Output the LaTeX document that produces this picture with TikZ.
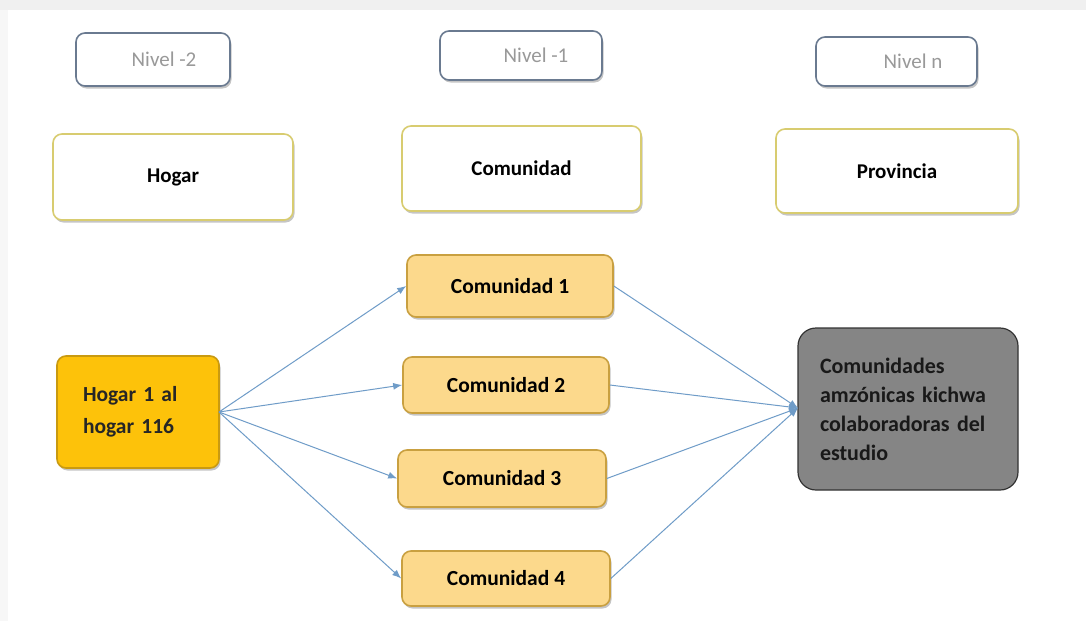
\documentclass[tikz,border=0pt]{standalone}
\usepackage{fontspec}
\setmainfont{Carlito}
\usetikzlibrary{shadows,arrows.meta}
\definecolor{nivbd}{HTML}{6A7A90}
\definecolor{topbd}{HTML}{D8CC70}
\definecolor{combd}{HTML}{C9A040}
\definecolor{comfill}{HTML}{FCD98C}
\definecolor{hogfill}{HTML}{FDC20A}
\definecolor{hogbd}{HTML}{C99A10}
\definecolor{grayfill}{HTML}{858585}
\definecolor{arrowc}{HTML}{6F9CC8}
\tikzset{
  base/.style={rounded corners=9pt, line width=1.6pt, drop shadow={shadow xshift=1.5pt, shadow yshift=-2.5pt, opacity=0.45}},
  nivbox/.style={base, draw=nivbd, fill=white, text=gray!80, font=\fontsize{21}{24}\selectfont},
  topbox/.style={base, draw=topbd, fill=white, font=\bfseries\fontsize{21}{24}\selectfont},
  combox/.style={base, draw=combd, fill=comfill, font=\bfseries\fontsize{21.5}{24}\selectfont},
  hogbox/.style={base, draw=hogbd, fill=hogfill, text=black!85, font=\bfseries\fontsize{21.5}{32}\selectfont},
  graybox/.style={rounded corners=18pt, line width=1.2pt, draw=black!80, fill=grayfill, text=black!90, font=\bfseries\fontsize{22}{29}\selectfont},
  conn/.style={draw=arrowc, line width=1pt, -{Latex[length=9pt,width=7pt]}}
}
\begin{document}
\begin{tikzpicture}[x=1pt,y=-1pt]
\useasboundingbox (0,0) rectangle (1086,621);
\fill[white] (0,0) rectangle (1086,621);
\fill[gray!12] (0,0) rectangle (1086,10);
\fill[gray!6] (0,10) rectangle (8,621);
% level labels
\node[nivbox, minimum width=154pt, minimum height=53pt] (n2) at (153,59.5) {\hspace*{22pt}Nivel -2};
\node[nivbox, minimum width=162pt, minimum height=49pt] (n1) at (521,55.5) {\hspace*{30pt}Nivel -1};
\node[nivbox, minimum width=161pt, minimum height=49pt] (nn) at (896.5,61.5) {\hspace*{33pt}Nivel n};
% top boxes
\node[topbox, minimum width=240pt, minimum height=86pt] (hogar) at (173,177) {Hogar};
\node[topbox, minimum width=239pt, minimum height=85pt] (comu) at (521.5,168.5) {Comunidad};
\node[topbox, minimum width=242pt, minimum height=84pt] (prov) at (897,171) {Provincia};
% communities
\node[combox, minimum width=206pt, minimum height=62pt] (c1) at (510,286) {Comunidad 1};
\node[combox, minimum width=206pt, minimum height=56pt] (c2) at (506,385) {Comunidad 2};
\node[combox, minimum width=208pt, minimum height=57pt] (c3) at (502,478.5) {Comunidad 3};
\node[combox, minimum width=208pt, minimum height=55pt] (c4) at (506,578.5) {Comunidad 4};
% source
\node[hogbox, minimum width=162pt, minimum height=112pt, align=left, text width=110pt] (h) at (138,412) {Hogar 1 al\\hogar 116};
% target
\node[graybox, minimum width=220pt, minimum height=162pt, align=left, text width=176pt] (g) at (908,409) {Comunidades\\amzónicas kichwa\\colaboradoras del\\estudio};
% connectors
\coordinate (hs) at (219,412);
\coordinate (gt) at (798,408);
\draw[conn] (hs) -- (c1.west);
\draw[conn] (hs) -- (c2.west);
\draw[conn] (hs) -- (c3.west);
\draw[conn] (hs) -- (c4.west);
\draw[conn] (c1.east) -- (gt);
\draw[conn] (c2.east) -- (gt);
\draw[conn] (c3.east) -- (gt);
\draw[conn] (c4.east) -- (gt);
\end{tikzpicture}
\end{document}
